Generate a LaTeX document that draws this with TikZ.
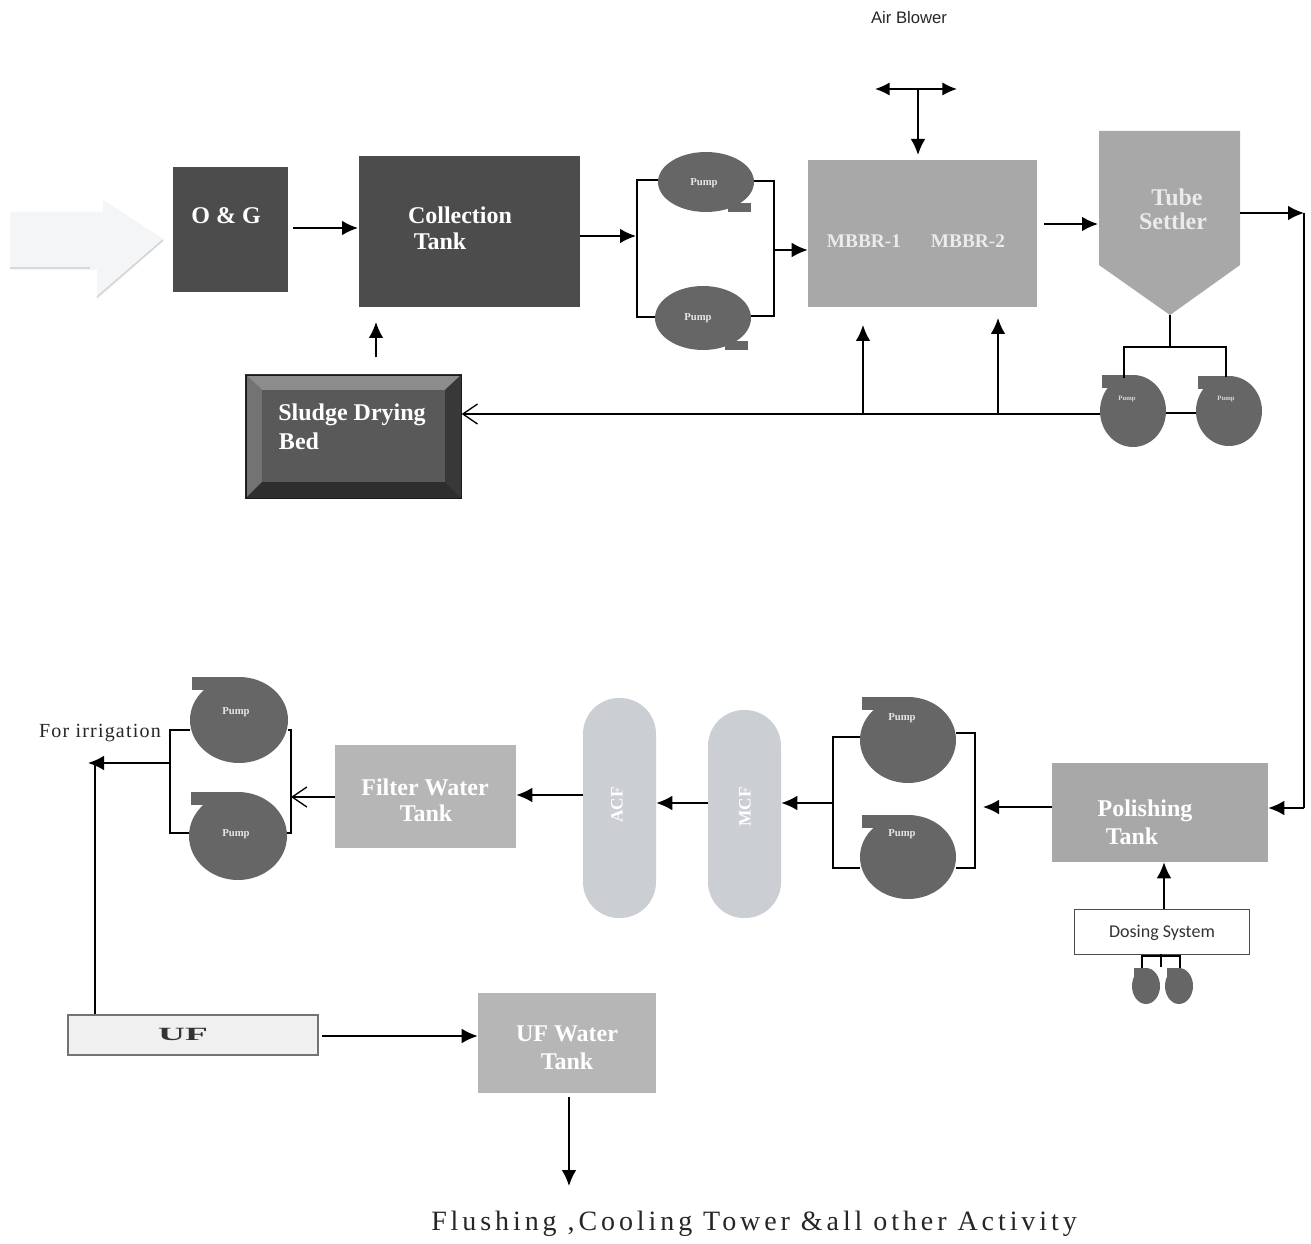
\documentclass[tikz,border=0pt]{standalone}
\usepackage{fontspec}
\usepackage{graphicx}
\setmainfont{Liberation Serif}
\newfontfamily\airfont{Liberation Sans}
\newfontfamily\dosefont{Carlito}
\newfontfamily\spacedfont[LetterSpace=14]{Liberation Serif}
\newfontfamily\irrigfont[LetterSpace=6]{Liberation Serif}
\usetikzlibrary{shapes.geometric,arrows.meta,positioning,calc}
\definecolor{darkbox}{HTML}{4C4C4C}
\definecolor{midbox}{HTML}{A8A8A8}
\definecolor{lightbox}{HTML}{B6B6B6}
\definecolor{vessel}{HTML}{CBCED2}
\definecolor{pumpgrey}{HTML}{666666}
\definecolor{inflow}{HTML}{F3F5F7}
\newcommand{\pxbox}[6]{% name, x0, y0, x1, y1, style
  \node[#6, minimum width={(#4-#2)*0.75pt}, minimum height={(#5-#3)*0.75pt}] (#1) at ({(#2+#4)/2},{(#3+#5)/2}) {};
}
\newcommand{\pump}[6]{% name cx cy rx ry tabposition
  \ifx#6t
    \fill[pumpgrey] ({#2-#4+2},{#3-#5}) rectangle ({#2+2},{#3-#5+13});
  \else
    \fill[pumpgrey] ({#2+#4*0.45},{#3+#5-9}) rectangle ({#2+#4-3},{#3+#5});
  \fi
  \node[pumpbody, minimum width={2*#4*0.75pt}, minimum height={2*#5*0.75pt}] (#1) at (#2,#3) {};
}
\tikzset{
  x=0.75pt,y=-0.75pt,
  flow/.style={line width=1.3pt,-{Latex[length=12pt,width=11pt]}},
  openflow/.style={line width=1pt,-{Straight Barb[length=11pt,width=15pt]}},
  pipe/.style={line width=1.1pt},
  thinpipe/.style={line width=0.8pt},
  pumpbody/.style={ellipse,fill=pumpgrey,inner sep=0pt},
  dark/.style={rectangle,fill=darkbox,inner sep=0pt},
  mid/.style={rectangle,fill=midbox,inner sep=0pt},
  light/.style={rectangle,fill=lightbox,inner sep=0pt},
  vesselbox/.style={rectangle,rounded corners=27pt,fill=vessel,inner sep=0pt},
  whitebold/.style={text=white,font=\bfseries\fontsize{18}{20}\selectfont,inner sep=0pt},
  softbold/.style={text=white!92!black,font=\bfseries\fontsize{18}{20}\selectfont,inner sep=0pt},
  pumptext/.style={text=white!90!black,font=\bfseries\fontsize{8}{10}\selectfont,inner sep=0pt},
  tinytext/.style={text=white!85!black,font=\bfseries\fontsize{5}{6}\selectfont,inner sep=0pt},
}
\begin{document}
\begin{tikzpicture}
\useasboundingbox (0,0) rectangle (1311,1244);
\fill[white] (0,0) rectangle (1311,1244);

% inflow arrow
\node[coordinate] (inA) at (97,297) {};
\node[coordinate] (inB) at (163,240) {};
\fill[inflow] (10,212) -- (103,212) -- (103,200) -- (165,240) -- (97,300) -- (97,270) -- (10,270) -- cycle;
\draw[line width=1pt,color=black!18] (inA) -- (inB);
\draw[line width=1pt,color=black!15] (10,268) -- (90,268);

% top row boxes
\pxbox{og}{173}{167}{288}{292}{dark}
\node[whitebold] at (226,216) {O \& G};
\pxbox{collection}{359}{156}{580}{307}{dark}
\node[whitebold] at (460,215) {Collection};
\node[whitebold] at (440,241) {Tank};
\pxbox{mbbr}{808}{160}{1037}{307}{mid}
\node[softbold,font=\bfseries\fontsize{14.5}{18}\selectfont] at (864,241) {MBBR-1};
\node[softbold,font=\bfseries\fontsize{14.5}{18}\selectfont] at (968,241) {MBBR-2};
\fill[midbox] (1099,131) -- (1240,131) -- (1240,265) -- (1170,315) -- (1099,265) -- cycle;
\node[coordinate] (settlerTip) at (1170,315) {};
\node[softbold] at (1177,197) {Tube};
\node[softbold] at (1173,221) {Settler};

% sludge bed
\pxbox{sludge}{246}{375}{461}{498}{rectangle,fill=black!72,draw=black!85,line width=1pt,inner sep=0pt}
\fill[black!45] (246,375) -- (461,375) -- (445,390) -- (262,390) -- cycle;
\fill[black!55] (246,375) -- (262,390) -- (262,482) -- (246,498) -- cycle;
\fill[black!82] (246,498) -- (262,482) -- (445,482) -- (461,498) -- cycle;
\fill[black!78] (461,375) -- (445,390) -- (445,482) -- (461,498) -- cycle;
\fill[black!65] (262,390) rectangle (445,482);
\draw[black!90,line width=0.6pt] (246,375) rectangle (461,498);
\node[whitebold] at (352,415) {Sludge Drying};
\node[whitebold] at (299,441) {Bed};

% top pumps
\pump{pa}{706}{182}{48}{30}{b}
\pump{pb}{703}{318}{48}{32}{b}
\node[pumptext] at (704,183) {Pump};
\node[pumptext] at (698,318) {Pump};
\pump{pc}{1133}{411}{33}{36}{t}
\pump{pd}{1229}{411}{33}{35}{t}
\node[tinytext] at (1127,399) {Pump};
\node[tinytext] at (1226,399) {Pump};

% labels up top
\node[font=\airfont\fontsize{12.5}{14}\selectfont,text=black!85,inner sep=0pt] (air) at (909,18) {Air Blower};
\node[coordinate] (blowL) at (875,89) {};
\node[coordinate] (blowR) at (957,89) {};
\node[coordinate] (blowC) at (918,89) {};
\draw[line width=1.3pt,{Latex[length=11pt,width=10pt]}-{Latex[length=11pt,width=10pt]}] (blowL) -- (blowR);
\draw[flow] (blowC) -- (918,155);

% top connectors
\draw[flow] (og.east |- 0,228) ++(5,0) -- (358,228);
\node[coordinate] (busAt) at (637,180) {};
\node[coordinate] (busAb) at (637,317) {};
\node[coordinate] (busBt) at (774,181) {};
\node[coordinate] (busBb) at (774,316) {};
\draw[flow] (collection.east |- 0,236) -- (636,236);
\draw[pipe] (pa.west |- busAt) -- (busAt) -- (busAb) -- (pb.west |- busAb);
\draw[pipe] (pa.east |- busBt) -- (busBt) -- (busBb) -- (pb.east |- busBb);
\draw[flow] (774,250) -- (mbbr.west |- 0,250);
\draw[flow] (1044,224) -- (1098,224);
\node[coordinate] (settlerOut) at (1240,213) {};
\node[coordinate] (rightTop) at (1304,213) {};
\node[coordinate] (rightBot) at (1304,808) {};
\draw[flow] (settlerOut) -- (rightTop);
\draw[thinpipe] (rightTop) -- (rightBot);

% settler pumps
\node[coordinate] (stemB) at (1170,347) {};
\draw[pipe] (settlerTip) -- (stemB);
\draw[pipe] (pc.north) ++(-9,3) |- (1226,347) -- ++(0,30);
\draw[pipe] (pc.east |- 0,413) -- (pd.west |- 0,413);
\draw[openflow] (pc.west |- 0,414) -- (sludge.east |- 0,414);
\node[coordinate] (jA) at (863,414) {};
\node[coordinate] (jB) at (998,414) {};
\draw[flow] (jA) -- (863,325);
\draw[flow] (jB) -- (998,318);
\draw[flow] (sludge.north -| 376,0) ++(0,-17) -- (376,322);

% polishing
\pxbox{polish}{1052}{763}{1268}{862}{mid}
\node[whitebold] at (1145,811) {Polishing};
\node[whitebold] at (1132,836) {Tank};
\draw[flow] (rightBot) -- (polish.east |- rightBot);
\pxbox{dosing}{1074}{909}{1249}{954}{rectangle,draw=black!70,line width=0.6pt,fill=white,inner sep=0pt}
\node[font=\dosefont\fontsize{13.5}{16}\selectfont,text=black!80,inner sep=0pt] at (1162,933) {Dosing System};
\draw[flow] (dosing.north -| 1164,0) -- (polish.south -| 1164,0);
\pump{pe}{1146}{986}{14}{18}{t}
\pump{pf}{1179}{986}{14}{18}{t}
\node[coordinate] (doseJ) at (1161,956) {};
\draw[line width=1pt] (dosing.south -| 1161,0) -- (1161,967);
\draw[line width=1pt] (pe.north -| 1142,0) |- (doseJ) -| (pf.north -| 1180,0);

% bottom-row vessels
\draw[flow] (polish.west |- 0,807) -- (983,807);
\pump{pg}{908}{740}{48}{43}{t}
\pump{ph}{908}{857}{48}{42}{t}
\node[pumptext] at (902,718) {Pump};
\node[pumptext] at (902,834) {Pump};
\node[coordinate] (busCt) at (833,737) {};
\node[coordinate] (busCb) at (833,868) {};
\node[coordinate] (busDt) at (975,733) {};
\node[coordinate] (busDb) at (975,868) {};
\draw[pipe] (pg.west |- busCt) -- (busCt) -- (busCb) -- (ph.west |- busCb);
\draw[pipe] (pg.east |- busDt) -- (busDt) -- (busDb) -- (ph.east |- busDb);
\pxbox{mcf}{708}{710}{781}{918}{vesselbox}
\node[rotate=90,text=white,font=\bfseries\fontsize{13}{16}\selectfont,inner sep=0pt] at (745,807) {MCF};
\pxbox{acf}{583}{698}{656}{918}{vesselbox}
\node[rotate=90,text=white,font=\bfseries\fontsize{13}{16}\selectfont,inner sep=0pt] at (617,805) {ACF};
\draw[flow] (833,803) -- (mcf.east |- 0,803);
\draw[flow] (mcf.west |- 0,803) -- (acf.east |- 0,803);
\pxbox{filter}{335}{745}{516}{848}{light}
\node[whitebold] at (425,787) {Filter Water};
\node[whitebold] at (426,813) {Tank};
\draw[flow] (acf.west |- 0,795) -- (filter.east |- 0,795);

% irrigation pumps
\pump{pi}{239}{720}{49}{43}{t}
\pump{pj}{238}{836}{49}{44}{t}
\node[pumptext] at (236,712) {Pump};
\node[pumptext] at (236,834) {Pump};
\node[coordinate] (busEt) at (170,730) {};
\node[coordinate] (busEb) at (170,833) {};
\node[coordinate] (busFt) at (291,730) {};
\node[coordinate] (busFb) at (291,833) {};
\draw[pipe] (pi.west |- busEt) -- (busEt) -- (busEb) -- (pj.west |- busEb);
\draw[pipe] (pi.east |- busFt) -- (busFt) -- (busFb) -- (pj.east |- busFb);
\draw[openflow] (filter.west |- 0,797) -- (busFt |- 0,797);
\node[coordinate] (irrEnd) at (88,763) {};
\draw[flow] (busEt |- irrEnd) -- (irrEnd);
\node[font=\irrigfont\fontsize{15}{18}\selectfont,text=black!85,inner sep=0pt] (irr) at (100,733) {For irrigation};

% UF
\pxbox{uf}{68}{1015}{318}{1055}{rectangle,draw=black!55,line width=0.9pt,fill=black!6,inner sep=0pt}
\node[font=\bfseries\fontsize{14}{16}\selectfont,text=black!80,inner sep=0pt] at (183,1034) {\scalebox{2}[1]{UF}};
\draw[pipe] (uf.north -| 95,0) -- (95,763);
\pxbox{uftank}{478}{993}{656}{1093}{light}
\node[whitebold] at (567,1034) {UF Water};
\node[whitebold] at (567,1061) {Tank};
\draw[flow] (322,1036) -- (uftank.west |- 0,1036);
\node[font=\spacedfont\fontsize{21}{24}\selectfont,text=black!85,inner sep=0pt] (flush) at (754,1224) {Flushing ,Cooling Tower \&all other Activity};
\node[coordinate] (flushEnd) at (569,1186) {};
\draw[flow] (569,1097) -- (flushEnd);
\end{tikzpicture}
\end{document}
